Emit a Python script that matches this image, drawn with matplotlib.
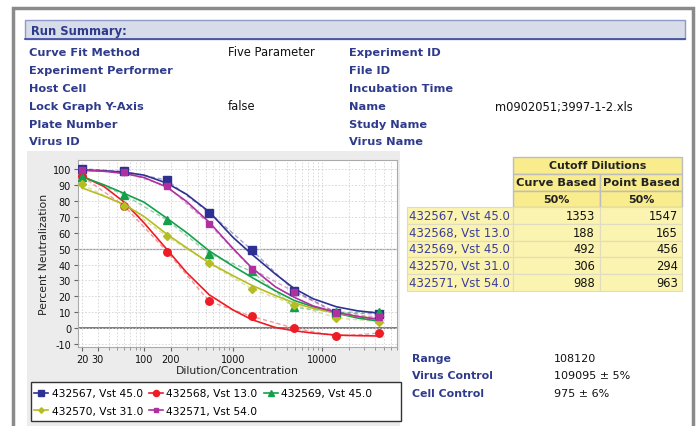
import matplotlib
matplotlib.use("Agg")
import matplotlib.pyplot as plt
from matplotlib.patches import Rectangle
from matplotlib.lines import Line2D
from matplotlib.ticker import FixedLocator, NullFormatter, FixedFormatter

W, H = 697, 427

# ---------------- data ----------------
summary_left = ["Curve Fit Method", "Experiment Performer", "Host Cell",
                "Lock Graph Y-Axis", "Plate Number", "Virus ID"]
summary_left_vals = ["Five Parameter", "", "", "false", "", ""]
summary_right = ["Experiment ID", "File ID", "Incubation Time", "Name",
                 "Study Name", "Virus Name"]
summary_right_vals = ["", "", "", "m0902051;3997-1-2.xls", "", ""]

series_names = ["432567, Vst 45.0", "432568, Vst 13.0", "432569, Vst 45.0",
                "432570, Vst 31.0", "432571, Vst 54.0"]
dilutions = [20, 60, 180, 540, 1620, 4860, 14580, 43740]
pts_432567 = [100, 98.3, 92.9, 72.5, 49.2, 23.6, 9.8, 9.0]
pts_432568 = [95.2, 76.6, 48.1, 16.9, 7.5, 0.2, -5.0, -3.0]
pts_432569 = [95.0, 83.6, 67.9, 46.8, 35.7, 13.2, 10.0, 10.4]
pts_432570 = [90.2, 76.8, 57.7, 40.9, 24.8, 14.8, 6.5, 4.2]
pts_432571 = [99.0, 97.7, 89.3, 65.4, 37.3, 23.0, 9.6, 7.0]

curve_x = [20, 35, 60, 100, 180, 300, 540, 1000, 1620, 3000, 4860, 8000, 14580, 25000, 43740]
curve_432567 = [99.3, 98.8, 97.8, 96.0, 91.0, 84.0, 73.0, 57.0, 46.5, 34.0, 25.0, 18.5, 13.5, 11.0, 9.5]
curve_432568 = [95.5, 89.0, 79.0, 66.0, 49.5, 35.0, 21.0, 11.5, 5.5, 0.5, -1.5, -3.0, -4.2, -4.6, -4.8]
curve_432569 = [95.0, 90.0, 84.5, 79.0, 69.0, 60.0, 48.5, 39.0, 32.0, 23.5, 17.5, 13.5, 9.5, 6.5, 4.5]
curve_432570 = [88.0, 83.0, 77.5, 70.0, 59.0, 50.5, 41.0, 33.0, 27.0, 20.5, 16.0, 12.5, 9.5, 7.5, 6.0]
curve_432571 = [99.0, 98.5, 97.0, 94.5, 88.5, 79.5, 66.5, 50.0, 38.0, 26.0, 19.5, 14.0, 10.0, 7.5, 5.5]

curve_based_50 = [1353, 188, 492, 306, 988]
point_based_50 = [1547, 165, 456, 294, 963]

control_labels = ["Range", "Virus Control", "Cell Control"]
control_vals = ["108120", "109095 \u00b1 5%", "975 \u00b1 6%"]

x_tick_vals = [20, 30, 100, 200, 1000, 10000]
y_ticks = [-10, 0, 10, 20, 30, 40, 50, 60, 70, 80, 90, 100]

colors = ["#2e3192", "#ee1c24", "#14a04a", "#b5bd22", "#b0309f"]
markers = ["s", "o", "^", "D", "s"]
msizes = [5.2, 5.4, 5.6, 3.8, 4.2]
points = [pts_432567, pts_432568, pts_432569, pts_432570, pts_432571]
curves = [curve_432567, curve_432568, curve_432569, curve_432570, curve_432571]

LBL = "#2e3a8c"
FONT = "DejaVu Sans"

fig = plt.figure(figsize=(W / 100, H / 100), dpi=100)
plt.rcParams['font.family'] = [FONT]

# pixel overlay
ov = fig.add_axes([0, 0, 1, 1], zorder=0)
ov.set_xlim(0, W)
ov.set_ylim(H, 0)
ov.axis('off')

# outer frame
ov.plot([13, 13, 693, 693], [H, 9, 9, H], color="#8a8a8a", lw=2.5, solid_joinstyle='miter')

# header bar
ov.add_patch(Rectangle((25, 21), 660, 19, facecolor="#d6dde8", edgecolor="#8f98c8", lw=1))
ov.plot([25, 685], [40, 40], color="#3b4aa0", lw=1.2)
ov.text(31, 31, "Run Summary:", fontsize=8.3, fontweight='bold', color=LBL, va='center', ha='left')

row_y = [53, 71, 89, 107, 125, 142]
for i, y in enumerate(row_y):
    ov.text(29, y, summary_left[i], fontsize=8.2, fontweight='bold', color=LBL, va='center')
    if summary_left_vals[i]:
        ov.text(228, y, summary_left_vals[i], fontsize=8.3, color="#111111", va='center')
    ov.text(349, y, summary_right[i], fontsize=8.2, fontweight='bold', color=LBL, va='center')
    if summary_right_vals[i]:
        ov.text(495, y, summary_right_vals[i], fontsize=8.3, color="#111111", va='center')

# chart panel
ov.add_patch(Rectangle((27, 152), 373, H - 152, facecolor="#ececec", edgecolor="none"))
# legend box
ov.add_patch(Rectangle((31, 383), 370, 39, facecolor="white", edgecolor="#333333", lw=1))

# ---------------- table ----------------
tx0, tx1, tx2, tx3 = 407, 513, 600, 682
hy = [158, 175, 192, 208]
hdr_fill = "#f8ec8c"
cell_fill = "#fbf3b0"
bcol = "#bdbdbd"
ov.add_patch(Rectangle((tx1, hy[0]), tx3 - tx1, hy[1] - hy[0], facecolor=hdr_fill, edgecolor=bcol, lw=1))
for a, b in [(tx1, tx2), (tx2, tx3)]:
    for r in (1, 2):
        ov.add_patch(Rectangle((a, hy[r]), b - a, hy[r + 1] - hy[r], facecolor=hdr_fill, edgecolor=bcol, lw=1))
ov.text((tx1 + tx3) / 2, (hy[0] + hy[1]) / 2, "Cutoff Dilutions", fontsize=7.9, fontweight='bold', ha='center', va='center', color="#222222")
ov.text((tx1 + tx2) / 2, (hy[1] + hy[2]) / 2, "Curve Based", fontsize=8.2, fontweight='bold', ha='center', va='center', color="#222222")
ov.text((tx2 + tx3) / 2, (hy[1] + hy[2]) / 2, "Point Based", fontsize=8.2, fontweight='bold', ha='center', va='center', color="#222222")
ov.text((tx1 + tx2) / 2, (hy[2] + hy[3]) / 2, "50%", fontsize=8.0, fontweight='bold', ha='center', va='center', color="#222222")
ov.text((tx2 + tx3) / 2, (hy[2] + hy[3]) / 2, "50%", fontsize=8.0, fontweight='bold', ha='center', va='center', color="#222222")
rh = 16.8
for i, name in enumerate(series_names):
    y0 = hy[3] + i * rh
    for a, b in [(tx0, tx1), (tx1, tx2), (tx2, tx3)]:
        ov.add_patch(Rectangle((a, y0), b - a, rh, facecolor=cell_fill, edgecolor="#e0dcc0", lw=0.8))
    yc = y0 + rh / 2
    ov.text(tx0 + 2, yc, name, fontsize=8.5, color="#3b3f9a", va='center')
    ov.text(tx2 - 5, yc, str(curve_based_50[i]), fontsize=8.3, color="#111111", va='center', ha='right')
    ov.text(tx3 - 4, yc, str(point_based_50[i]), fontsize=8.3, color="#111111", va='center', ha='right')

for i, (lab, val) in enumerate(zip(control_labels, control_vals)):
    y = 359 + i * 17.5
    ov.text(412, y, lab, fontsize=7.9, fontweight='bold', color=LBL, va='center')
    ov.text(554, y, val, fontsize=8.0, color="#111111", va='center')

# ---------------- chart ----------------
L, R, T, B = 78, 397, 161, 348
ax = fig.add_axes([L / W, (H - B) / H, (R - L) / W, (B - T) / H], zorder=2)
ax.set_facecolor("white")
ax.set_xscale('log')
ax.set_xlim(18, 70000)
ax.set_ylim(-11.7, 105.5)

minor = []
for dec in [10, 100, 1000, 10000]:
    for m in range(2, 10):
        v = dec * m
        if v not in x_tick_vals and 18 <= v <= 70000:
            minor.append(v)
ax.xaxis.set_major_locator(FixedLocator(x_tick_vals))
ax.xaxis.set_major_formatter(FixedFormatter([str(v) for v in x_tick_vals]))
ax.xaxis.set_minor_locator(FixedLocator(minor))
ax.xaxis.set_minor_formatter(NullFormatter())
ax.set_yticks(y_ticks)
ax.set_yticklabels([str(v) for v in y_ticks])

ax.grid(True, which='both', axis='x', color="#d4d4d4", ls=(0, (2, 2)), lw=0.6)
ax.grid(True, which='major', axis='y', color="#d4d4d4", ls=(0, (2, 2)), lw=0.6)
ax.axhline(50, color="#9a9a9a", lw=0.9, zorder=1)
ax.axhline(0, color="#7a7a7a", lw=1.4, zorder=1)

ax.tick_params(axis='both', which='major', labelsize=7.0, length=3, color="#666666", pad=2, labelcolor="#111111")
ax.tick_params(axis='x', which='minor', length=2, color="#888888")
for s in ax.spines.values():
    s.set_color("#aaaaaa")
    s.set_linewidth(0.8)

handles = []
for i in range(5):
    ax.plot(dilutions, points[i], color=colors[i], ls=(0, (3, 2)), lw=1.0, alpha=0.45, zorder=3)
    ax.plot(curve_x, curves[i], color=colors[i], lw=1.2, zorder=4)
    ax.plot(dilutions, points[i], ls='none', marker=markers[i], ms=msizes[i],
            color=colors[i], mec=colors[i], zorder=5)
    handles.append(Line2D([], [], color=colors[i], lw=1.2, marker=markers[i],
                          ms=msizes[i] - 1.0, label=series_names[i]))

ax.set_ylabel("Percent Neutralization", fontsize=7.8, color="#222222", labelpad=3)
ax.set_xlabel("Dilution/Concentration", fontsize=7.8, color="#222222", labelpad=1)

order = [0, 3, 1, 4, 2]
leg = fig.legend([handles[j] for j in order], [series_names[j] for j in order],
                 ncol=3, frameon=False, loc='upper left',
                 bbox_to_anchor=(27 / W, 1 - 382 / H), fontsize=7.7,
                 handlelength=1.3, handletextpad=0.3, columnspacing=0.6,
                 labelspacing=0.7, borderpad=0.2)

fig.savefig("out.png", dpi=100)
